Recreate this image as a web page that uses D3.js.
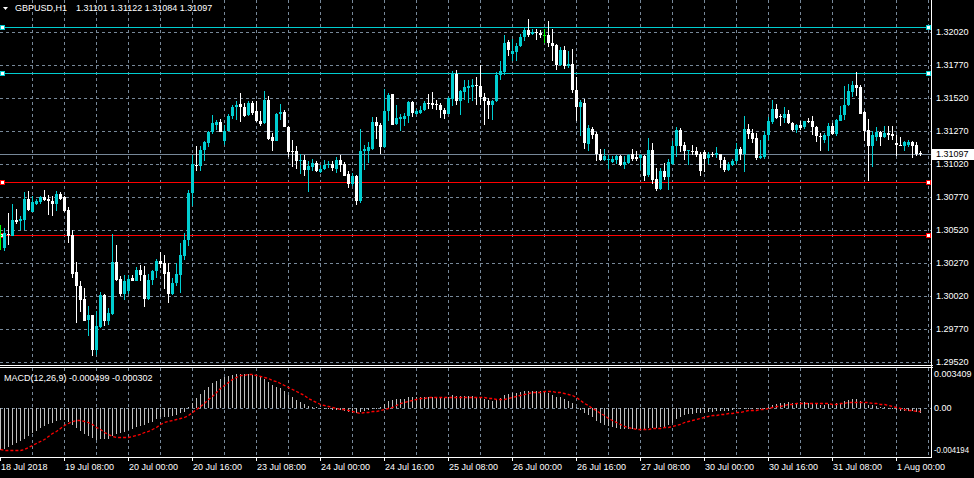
<!DOCTYPE html>
<html><head><meta charset="utf-8">
<script src="https://cdn.jsdelivr.net/npm/d3@7"></script>
<style>
html,body{margin:0;padding:0;background:#000;overflow:hidden}
svg{display:block}
text{font-family:"Liberation Sans",Arial,sans-serif;font-size:9px;fill:#fff}
</style></head><body>
<svg id="c" width="974" height="478"></svg>
<script>
// ---------- DATA ----------
const symbolLabel = "GBPUSD,H1";
const lastQuote = [1.31101, 1.31122, 1.31084, 1.31097];
const macdLabel = "MACD(12,26,9) -0.000499 -0.000302";
const timeLabels = ["18 Jul 2018","19 Jul 08:00","20 Jul 00:00","20 Jul 16:00","23 Jul 08:00","24 Jul 00:00","24 Jul 16:00","25 Jul 08:00","26 Jul 00:00","26 Jul 16:00","27 Jul 08:00","30 Jul 00:00","30 Jul 16:00","31 Jul 08:00","1 Aug 00:00"];
const timeLabelBars = [0,16,32,48,64,80,96,112,128,144,160,176,192,208,224];
const priceTicks = [1.32020,1.31770,1.31520,1.31270,1.31020,1.30770,1.30520,1.30270,1.30020,1.29770,1.29520];
const macdTicks = [0.003409, 0, -0.004194];
const macdTickLabels = ["0.003409","0.00","-0.004194"];
const cyanLevels = [1.32059, 1.31711];
const redLevels = [1.30885, 1.30484];
const bidPrice = 1.31097;

const open = [
1.30484,1.30383,1.30489,1.30472,1.30598,1.30585,1.30598,1.30757,1.30653,1.30717,
1.30729,1.30767,1.30757,1.30742,1.30719,1.30795,1.30767,1.30673,1.30479,1.30199,
1.30098,1.30000,1.29840,1.29878,1.29613,1.29785,1.30030,1.29833,1.29886,1.30277,
1.30151,1.30035,1.30060,1.30156,1.30131,1.30219,1.30181,1.30000,1.30139,1.30206,
1.30287,1.30270,1.30199,1.30035,1.30118,1.30176,1.30320,1.30441,1.30800,1.31010,
1.31002,1.31128,1.31179,1.31260,1.31317,1.31340,1.31191,1.31267,1.31380,1.31449,
1.31474,1.31454,1.31388,1.31484,1.31419,1.31348,1.31328,1.31507,1.31227,1.31191,
1.31401,1.31414,1.31300,1.31116,1.31116,1.31040,1.31053,1.30972,1.30997,1.31027,
1.30959,1.30982,1.31010,1.31022,1.30984,1.31053,1.31020,1.30944,1.30868,1.30931,
1.30742,1.31116,1.31121,1.31136,1.31338,1.31317,1.31146,1.31419,1.31550,1.31325,
1.31363,1.31363,1.31380,1.31489,1.31401,1.31406,1.31426,1.31482,1.31482,1.31474,
1.31469,1.31431,1.31401,1.31515,1.31704,1.31495,1.31563,1.31596,1.31603,1.31616,
1.31613,1.31530,1.31500,1.31469,1.31495,1.31691,1.31717,1.31944,1.31856,1.31866,
1.31911,1.31982,1.32037,1.32005,1.32020,1.32012,1.32000,1.32000,1.31936,1.31924,
1.31767,1.31886,1.31760,1.31777,1.31583,1.31449,1.31482,1.31174,1.31287,1.31250,
1.31095,1.31048,1.31048,1.31035,1.31053,1.31078,1.31015,1.31027,1.31095,1.31070,
1.31065,1.31083,1.30934,1.31128,1.30909,1.30833,1.30964,1.30921,1.31022,1.31153,
1.31275,1.31166,1.31116,1.31121,1.31121,1.31095,1.31111,1.31065,1.31095,1.31085,
1.31095,1.31053,1.30977,1.31015,1.31040,1.31136,1.31095,1.31285,1.31255,1.31217,
1.31065,1.31070,1.31237,1.31338,1.31439,1.31386,1.31368,1.31401,1.31330,1.31280,
1.31312,1.31300,1.31348,1.31348,1.31302,1.31234,1.31204,1.31229,1.31310,1.31250,
1.31348,1.31388,1.31464,1.31563,1.31616,1.31601,1.31411,1.31280,1.31153,1.31224,
1.31260,1.31224,1.31255,1.31247,1.31176,1.31166,1.31153,1.31161,1.31184,1.31161,
1.31101];
const high = [
1.30560,1.30535,1.30648,1.30716,1.30678,1.30623,1.30808,1.30818,1.30774,1.30757,
1.30774,1.30825,1.30787,1.30774,1.30818,1.30808,1.30774,1.30694,1.30522,1.30277,
1.30136,1.30080,1.29946,1.29878,1.29904,1.30050,1.30035,1.29929,1.30489,1.30408,
1.30169,1.30181,1.30176,1.30176,1.30237,1.30257,1.30244,1.30186,1.30214,1.30302,
1.30353,1.30333,1.30270,1.30156,1.30270,1.30421,1.30497,1.30825,1.31091,1.31153,
1.31153,1.31196,1.31267,1.31393,1.31355,1.31363,1.31317,1.31398,1.31469,1.31500,
1.31558,1.31482,1.31495,1.31500,1.31500,1.31419,1.31575,1.31538,1.31255,1.31406,
1.31474,1.31431,1.31305,1.31204,1.31159,1.31095,1.31090,1.31040,1.31060,1.31040,
1.31010,1.31053,1.31040,1.31040,1.31070,1.31090,1.31032,1.30969,1.30951,1.30939,
1.31287,1.31166,1.31184,1.31373,1.31373,1.31330,1.31590,1.31558,1.31550,1.31469,
1.31401,1.31406,1.31500,1.31500,1.31436,1.31462,1.31500,1.31553,1.31565,1.31507,
1.31482,1.31444,1.31525,1.31722,1.31734,1.31583,1.31659,1.31659,1.31666,1.31676,
1.31767,1.31558,1.31520,1.31507,1.31717,1.31802,1.32000,1.31962,1.31969,1.31936,
1.32005,1.32055,1.32121,1.32045,1.32042,1.32032,1.32045,1.32106,1.32045,1.31929,
1.31904,1.31911,1.31878,1.31893,1.31676,1.31507,1.31515,1.31317,1.31297,1.31262,
1.31136,1.31136,1.31090,1.31078,1.31085,1.31085,1.31078,1.31095,1.31136,1.31116,
1.31095,1.31090,1.31217,1.31179,1.30989,1.30989,1.31027,1.31060,1.31196,1.31302,
1.31292,1.31186,1.31128,1.31166,1.31146,1.31111,1.31128,1.31111,1.31111,1.31151,
1.31095,1.31070,1.31035,1.31060,1.31179,1.31146,1.31380,1.31323,1.31287,1.31255,
1.31204,1.31272,1.31373,1.31507,1.31474,1.31398,1.31454,1.31431,1.31338,1.31323,
1.31343,1.31348,1.31368,1.31380,1.31310,1.31255,1.31255,1.31330,1.31330,1.31363,
1.31457,1.31613,1.31626,1.31646,1.31717,1.31621,1.31419,1.31363,1.31272,1.31302,
1.31267,1.31310,1.31305,1.31305,1.31237,1.31224,1.31191,1.31204,1.31191,1.31184,
1.31122];
const low = [
1.30370,1.30358,1.30408,1.30472,1.30565,1.30522,1.30522,1.30661,1.30653,1.30707,
1.30717,1.30737,1.30636,1.30623,1.30666,1.30749,1.30656,1.30421,1.30156,1.29815,
1.29899,1.29833,1.29719,1.29563,1.29575,1.29777,1.29795,1.29802,1.29878,1.30131,
1.30017,1.29992,1.30035,1.30131,1.30131,1.30131,1.29934,1.29992,1.30106,1.30156,
1.30232,1.30075,1.29967,1.30025,1.30093,1.30043,1.30295,1.30396,1.30699,1.30964,
1.30969,1.31045,1.31146,1.31250,1.31280,1.31260,1.31161,1.31267,1.31363,1.31355,
1.31335,1.31373,1.31386,1.31393,1.31335,1.31305,1.31323,1.31204,1.31116,1.31191,
1.31355,1.31297,1.31070,1.30995,1.30984,1.30944,1.30926,1.30808,1.30969,1.30959,
1.30951,1.30977,1.30989,1.30964,1.30951,1.30959,1.30926,1.30838,1.30851,1.30707,
1.30724,1.30977,1.31027,1.31128,1.31212,1.31095,1.31141,1.31348,1.31317,1.31317,
1.31267,1.31305,1.31330,1.31373,1.31393,1.31401,1.31419,1.31439,1.31439,1.31426,
1.31368,1.31363,1.31398,1.31457,1.31469,1.31388,1.31507,1.31482,1.31500,1.31464,
1.31464,1.31313,1.31363,1.31355,1.31489,1.31659,1.31697,1.31835,1.31797,1.31802,
1.31906,1.31954,1.31979,1.31994,1.31962,1.31974,1.31936,1.31904,1.31797,1.31734,
1.31760,1.31742,1.31747,1.31558,1.31348,1.31229,1.31136,1.31116,1.31212,1.31045,
1.31040,1.31040,1.30984,1.31027,1.31020,1.31002,1.30984,1.31020,1.31040,1.31040,
1.30977,1.30893,1.30919,1.30868,1.30813,1.30825,1.30901,1.30825,1.31015,1.31070,
1.31111,1.31053,1.31010,1.31090,1.31070,1.30926,1.30957,1.31020,1.31070,1.31065,
1.30989,1.30959,1.30969,1.31002,1.31020,1.31053,1.30959,1.31212,1.31179,1.31053,
1.31058,1.31058,1.31204,1.31323,1.31363,1.31305,1.31330,1.31323,1.31267,1.31255,
1.31280,1.31287,1.31330,1.31242,1.31184,1.31116,1.31179,1.31121,1.31242,1.31229,
1.31343,1.31355,1.31462,1.31525,1.31532,1.31401,1.31196,1.30888,1.30995,1.31191,
1.31153,1.31217,1.31204,1.31204,1.31078,1.31153,1.31116,1.31148,1.31065,1.31078,
1.31084];
const close = [
1.30484,1.30497,1.30479,1.30598,1.30580,1.30606,1.30757,1.30673,1.30732,1.30737,
1.30767,1.30749,1.30737,1.30719,1.30795,1.30757,1.30666,1.30472,1.30189,1.30093,
1.29992,1.29833,1.29878,1.29613,1.29795,1.30030,1.29833,1.29891,1.30277,1.30144,
1.30035,1.30131,1.30151,1.30131,1.30219,1.30176,1.30000,1.30144,1.30206,1.30287,
1.30262,1.30189,1.30035,1.30118,1.30186,1.30328,1.30446,1.30800,1.31020,1.31002,
1.31128,1.31184,1.31260,1.31330,1.31340,1.31262,1.31272,1.31386,1.31454,1.31469,
1.31449,1.31386,1.31484,1.31406,1.31343,1.31325,1.31507,1.31212,1.31191,1.31401,
1.31414,1.31297,1.31108,1.31108,1.31040,1.31053,1.30972,1.31002,1.31027,1.30969,
1.30984,1.31015,1.31022,1.30989,1.31053,1.31010,1.30931,1.30868,1.30931,1.30742,
1.31121,1.31131,1.31146,1.31338,1.31305,1.31146,1.31424,1.31545,1.31317,1.31368,
1.31373,1.31386,1.31489,1.31406,1.31419,1.31431,1.31482,1.31474,1.31469,1.31469,
1.31426,1.31401,1.31520,1.31709,1.31500,1.31575,1.31601,1.31608,1.31616,1.31608,
1.31525,1.31495,1.31469,1.31500,1.31697,1.31727,1.31936,1.31886,1.31878,1.31916,
1.31982,1.32037,1.32000,1.32020,1.32010,1.31994,1.32000,1.31936,1.31916,1.31772,
1.31886,1.31760,1.31777,1.31583,1.31449,1.31489,1.31179,1.31292,1.31242,1.31095,
1.31053,1.31083,1.31060,1.31060,1.31078,1.31015,1.31035,1.31090,1.31060,1.31060,
1.31085,1.30931,1.31128,1.30901,1.30833,1.30964,1.30921,1.31032,1.31159,1.31275,
1.31153,1.31116,1.31128,1.31111,1.31085,1.30964,1.31060,1.31095,1.31085,1.31100,
1.31048,1.30977,1.31022,1.31045,1.31133,1.31095,1.31285,1.31247,1.31212,1.31065,
1.31083,1.31242,1.31343,1.31439,1.31368,1.31373,1.31401,1.31330,1.31280,1.31317,
1.31292,1.31348,1.31338,1.31297,1.31229,1.31222,1.31237,1.31310,1.31250,1.31355,
1.31393,1.31469,1.31570,1.31616,1.31596,1.31401,1.31272,1.31153,1.31237,1.31260,
1.31222,1.31255,1.31242,1.31234,1.31161,1.31153,1.31184,1.31184,1.31153,1.31095,
1.31097];
const macdMain = [
-0.00420,-0.00407,-0.00393,-0.00370,-0.00353,-0.00330,-0.00307,-0.00280,-0.00253,-0.00227,
-0.00203,-0.00180,-0.00160,-0.00147,-0.00130,-0.00120,-0.00120,-0.00137,-0.00170,-0.00203,
-0.00230,-0.00260,-0.00280,-0.00303,-0.00320,-0.00313,-0.00313,-0.00307,-0.00280,-0.00260,
-0.00253,-0.00237,-0.00220,-0.00207,-0.00187,-0.00177,-0.00173,-0.00153,-0.00137,-0.00113,
-0.00093,-0.00087,-0.00087,-0.00080,-0.00070,-0.00053,-0.00037,0.00013,0.00053,0.00097,
0.00140,0.00180,0.00213,0.00247,0.00273,0.00293,0.00307,0.00320,0.00333,0.00340,
0.00341,0.00340,0.00340,0.00333,0.00323,0.00307,0.00293,0.00260,0.00227,0.00213,
0.00200,0.00173,0.00133,0.00107,0.00080,0.00060,0.00037,0.00023,0.00013,0.00007,
0.00001,-0.00007,-0.00013,-0.00020,-0.00020,-0.00023,-0.00030,-0.00040,-0.00047,-0.00053,
-0.00037,-0.00027,-0.00020,-0.00007,0.00000,0.00007,0.00040,0.00073,0.00080,0.00087,
0.00093,0.00093,0.00107,0.00107,0.00107,0.00107,0.00110,0.00110,0.00113,0.00113,
0.00107,0.00103,0.00107,0.00130,0.00120,0.00120,0.00120,0.00120,0.00120,0.00113,
0.00107,0.00093,0.00080,0.00073,0.00087,0.00100,0.00130,0.00140,0.00147,0.00153,
0.00163,0.00173,0.00173,0.00173,0.00170,0.00167,0.00160,0.00147,0.00133,0.00113,
0.00107,0.00087,0.00073,0.00047,0.00007,-0.00020,-0.00053,-0.00070,-0.00093,-0.00127,
-0.00153,-0.00170,-0.00180,-0.00187,-0.00200,-0.00207,-0.00210,-0.00210,-0.00210,-0.00210,
-0.00207,-0.00207,-0.00197,-0.00197,-0.00200,-0.00193,-0.00187,-0.00173,-0.00147,-0.00110,
-0.00087,-0.00073,-0.00063,-0.00057,-0.00050,-0.00053,-0.00047,-0.00040,-0.00037,-0.00030,
-0.00027,-0.00030,-0.00027,-0.00020,-0.00013,-0.00013,0.00003,0.00003,0.00000,-0.00007,
-0.00007,0.00000,0.00013,0.00033,0.00043,0.00047,0.00053,0.00057,0.00053,0.00053,
0.00057,0.00060,0.00053,0.00053,0.00040,0.00033,0.00033,0.00040,0.00040,0.00047,
0.00053,0.00067,0.00080,0.00087,0.00087,0.00073,0.00053,0.00030,0.00027,0.00020,
0.00013,0.00007,0.00000,-0.00003,-0.00020,-0.00027,-0.00027,-0.00030,-0.00030,-0.00040,
-0.000499];
const macdSignal = [
-0.00413,-0.00417,-0.00420,-0.00420,-0.00420,-0.00417,-0.00410,-0.00393,-0.00373,-0.00353,
-0.00330,-0.00307,-0.00280,-0.00253,-0.00227,-0.00200,-0.00173,-0.00147,-0.00130,-0.00123,
-0.00123,-0.00130,-0.00140,-0.00160,-0.00187,-0.00213,-0.00240,-0.00263,-0.00280,-0.00290,
-0.00293,-0.00293,-0.00290,-0.00283,-0.00273,-0.00260,-0.00243,-0.00227,-0.00207,-0.00187,
-0.00163,-0.00143,-0.00127,-0.00117,-0.00110,-0.00103,-0.00087,-0.00070,-0.00037,-0.00007,
0.00023,0.00053,0.00087,0.00120,0.00160,0.00197,0.00233,0.00263,0.00293,0.00313,
0.00327,0.00333,0.00337,0.00337,0.00333,0.00323,0.00313,0.00297,0.00280,0.00267,
0.00247,0.00227,0.00213,0.00190,0.00170,0.00147,0.00127,0.00103,0.00080,0.00060,
0.00043,0.00033,0.00023,0.00013,0.00003,-0.00007,-0.00013,-0.00023,-0.00033,-0.00043,
-0.00047,-0.00043,-0.00040,-0.00033,-0.00027,-0.00020,-0.00010,0.00000,0.00013,0.00027,
0.00047,0.00060,0.00073,0.00083,0.00093,0.00100,0.00103,0.00107,0.00107,0.00107,
0.00107,0.00107,0.00107,0.00107,0.00107,0.00107,0.00107,0.00107,0.00107,0.00107,
0.00107,0.00107,0.00103,0.00100,0.00093,0.00090,0.00093,0.00103,0.00113,0.00123,
0.00133,0.00143,0.00150,0.00157,0.00160,0.00163,0.00167,0.00167,0.00167,0.00163,
0.00160,0.00153,0.00143,0.00127,0.00107,0.00080,0.00053,0.00027,0.00000,-0.00023,
-0.00047,-0.00073,-0.00097,-0.00120,-0.00140,-0.00160,-0.00177,-0.00190,-0.00200,-0.00207,
-0.00210,-0.00210,-0.00207,-0.00203,-0.00200,-0.00197,-0.00193,-0.00190,-0.00180,-0.00170,
-0.00157,-0.00143,-0.00130,-0.00117,-0.00107,-0.00097,-0.00087,-0.00080,-0.00073,-0.00067,
-0.00060,-0.00057,-0.00050,-0.00047,-0.00040,-0.00037,-0.00030,-0.00023,-0.00020,-0.00017,
-0.00013,-0.00010,-0.00003,0.00007,0.00017,0.00023,0.00033,0.00040,0.00043,0.00047,
0.00050,0.00053,0.00053,0.00053,0.00053,0.00050,0.00047,0.00047,0.00043,0.00043,
0.00047,0.00050,0.00057,0.00060,0.00063,0.00063,0.00060,0.00057,0.00053,0.00050,
0.00043,0.00037,0.00027,0.00017,0.00007,-0.00003,-0.00010,-0.00017,-0.00023,-0.00027,
-0.000302];

// ---------- STYLE ----------
const C_BULL = "#00CED1", C_BEAR = "#FFFFFF", C_DOJI = "#00FF00";
const C_GRID = "#778899", C_AXIS = "#FFFFFF", C_HIST = "#C0C0C0", C_SIG = "#FF0000";
const AXIS_X = 931.5;

const svg = d3.select("#c");
svg.append("rect").attr("width",974).attr("height",478).attr("fill","#000");

const bars = d3.range(open.length);
const x = d3.scaleLinear().domain([0, 232]).range([0, 928]);
const y = d3.scaleLinear().domain([1.29520, 1.32020]).range([362, 32]);
const m = d3.scaleLinear().domain([-0.004194, 0.003409]).range([450, 374]);
const px = v => Math.round(v) + 0.5;

// ---------- GRID ----------
const grid = svg.append("g").attr("stroke", C_GRID).attr("stroke-dasharray","3,3").attr("shape-rendering","crispEdges");
grid.selectAll(".hg").data(priceTicks).join("line")
  .attr("x1",0).attr("x2",AXIS_X).attr("y1",d=>px(y(d))).attr("y2",d=>px(y(d)));
const vGrid = d3.range(8, 233, 8);
grid.selectAll(".vg").data(vGrid).join("line")
  .attr("x1",d=>x(d)+0.5).attr("x2",d=>x(d)+0.5).attr("y1",0).attr("y2",364);
grid.selectAll(".vg2").data(vGrid).join("line")
  .attr("x1",d=>x(d)+0.5).attr("x2",d=>x(d)+0.5).attr("y1",368).attr("y2",457);
grid.append("line").attr("x1",0).attr("x2",AXIS_X).attr("y1",px(m(0))).attr("y2",px(m(0)));

// ---------- HORIZONTAL OBJECT LINES ----------
const lv = svg.append("g").attr("shape-rendering","crispEdges");
function level(p, color){
  const yy = px(y(p));
  lv.append("line").attr("x1",0).attr("x2",929).attr("y1",yy).attr("y2",yy).attr("stroke",color);
  [2.5, 928.5].forEach(cx=>{
    lv.append("rect").attr("x",cx-2).attr("y",yy-2).attr("width",4).attr("height",4)
      .attr("fill","#fff").attr("stroke",color);
  });
}
lv.append("line").attr("x1",0).attr("x2",AXIS_X).attr("y1",px(y(bidPrice))).attr("y2",px(y(bidPrice))).attr("stroke",C_GRID);
cyanLevels.forEach(p=>level(p, C_BULL));
redLevels.forEach(p=>level(p, "#FF0000"));

// ---------- CANDLES ----------
const colorOf = i => open[i]===close[i] ? C_DOJI : (close[i]>open[i] ? C_BULL : C_BEAR);
const cg = svg.append("g").attr("shape-rendering","crispEdges");
cg.selectAll(".wick").data(bars).join("rect")
  .attr("x", i=>x(i)).attr("width",1)
  .attr("y", i=>Math.round(y(high[i])))
  .attr("height", i=>Math.max(1, Math.round(y(low[i]))-Math.round(y(high[i]))))
  .attr("fill", colorOf);
cg.selectAll(".body").data(bars).join("rect")
  .attr("x", i=>x(i)-1).attr("width",3)
  .attr("y", i=>Math.round(y(Math.max(open[i],close[i]))))
  .attr("height", i=>Math.max(1, Math.round(y(Math.min(open[i],close[i])))-Math.round(y(Math.max(open[i],close[i])))))
  .attr("fill", colorOf);

// ---------- MACD ----------
const mg = svg.append("g").attr("shape-rendering","crispEdges");
mg.selectAll("rect").data(bars).join("rect")
  .attr("x", i=>x(i)).attr("width",1)
  .attr("y", i=>Math.round(Math.min(m(0), m(macdMain[i]))))
  .attr("height", i=>Math.max(1, Math.round(Math.abs(m(macdMain[i])-m(0)))))
  .attr("fill", C_HIST);
svg.append("path").datum(bars)
  .attr("d", d3.line().x(i=>x(i)+0.5).y(i=>Math.round(m(macdSignal[i]))+0.5))
  .attr("fill","none").attr("stroke",C_SIG).attr("stroke-width",1.3).attr("stroke-dasharray","3,2");

// ---------- FRAME ----------
const fr = svg.append("g").attr("stroke",C_AXIS).attr("shape-rendering","crispEdges");
fr.append("line").attr("x1",AXIS_X).attr("x2",AXIS_X).attr("y1",0).attr("y2",458);
fr.append("line").attr("x1",0).attr("x2",933).attr("y1",365.5).attr("y2",365.5);
fr.append("line").attr("x1",0).attr("x2",933).attr("y1",367.5).attr("y2",367.5);
fr.append("line").attr("x1",0).attr("x2",AXIS_X).attr("y1",457.5).attr("y2",457.5);

// ---------- AXES ----------
const fontFix = g => g.selectAll("text").attr("fill","#fff").attr("font-family","Liberation Sans, Arial, sans-serif").attr("font-size","9px");
const pa = svg.append("g").attr("transform",`translate(${AXIS_X-0.5},0)`)
  .call(d3.axisRight(y).tickValues(priceTicks).tickFormat(d3.format(".5f")).tickSize(0).tickPadding(5));
pa.select(".domain").remove(); fontFix(pa);

const ma = svg.append("g").attr("transform",`translate(${AXIS_X-0.5},0)`)
  .call(d3.axisRight(m).tickValues(macdTicks).tickFormat((d,i)=>macdTickLabels[i]).tickSize(0).tickPadding(3));
ma.select(".domain").remove(); fontFix(ma);
// keep the long bottom label inside the window
ma.selectAll("text").filter(d=>d<0).attr("font-size","8.5px").attr("textLength",35).attr("lengthAdjust","spacingAndGlyphs");

const ta = svg.append("g").attr("transform","translate(0,457)")
  .call(d3.axisBottom(x).tickValues(timeLabelBars).tickFormat((d,i)=>timeLabels[i]).tickSize(4).tickPadding(3));
ta.select(".domain").remove();
ta.selectAll("line").attr("stroke","#fff");
ta.selectAll("text").attr("text-anchor","start").attr("x",0.5);
fontFix(ta);

// current price box
const bidY = y(bidPrice);
svg.append("rect").attr("x",932).attr("y",Math.round(bidY)-5).attr("width",42).attr("height",11).attr("fill","#fff");
svg.append("text").attr("x",936).attr("y",bidY).attr("dy","0.32em").style("fill","#000").text(d3.format(".5f")(bidPrice));

// ---------- TITLES ----------
svg.append("path").attr("d","M3,7 L8,7 L5.5,10 Z").attr("fill","#fff");
svg.append("text").attr("x",15).attr("y",11).text(symbolLabel);
svg.append("text").attr("x",76).attr("y",11).text(lastQuote.map(d3.format(".5f")).join(" "));
svg.append("text").attr("x",4).attr("y",381).text(macdLabel);
</script>
</body></html>
